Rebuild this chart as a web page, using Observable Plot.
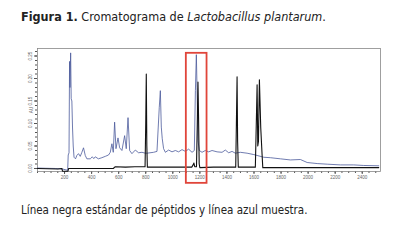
<!DOCTYPE html>
<html>
<head>
<meta charset="utf-8">
<script src="https://cdn.jsdelivr.net/npm/d3@7"></script>
<script src="https://cdn.jsdelivr.net/npm/@observablehq/plot@0.6"></script>
<style>
  html, body { margin: 0; padding: 0; background: #fff; width: 402px; height: 251px; overflow: hidden; }
  .txt { position: absolute; left: 21px; font-family: "Liberation Sans Narrow", "Arial Narrow", "DejaVu Sans Condensed", sans-serif; font-size: 11.5px; color: #222; white-space: nowrap; }
  #title { top: 9px; font-size: 12.5px; }
  #caption { top: 203px; }
  #chart { position: absolute; left: 0; top: 30px; }
</style>
</head>
<body>
<div id="title" class="txt"><b>Figura 1.</b> Cromatograma de <i>Lactobacillus plantarum</i>.</div>
<div id="chart"></div>
<div id="caption" class="txt">Línea negra estándar de péptidos y línea azul muestra.</div>
<script>
// Sample trace (blue): retention time and absorbance (AU)
const blueTime = [0, 57, 131, 183, 223, 227, 233, 237, 240, 245, 249, 254, 259, 264, 270, 281, 291, 303, 316, 328, 340, 353, 365, 390, 405, 416, 427, 450, 476, 501, 525, 538, 550, 560, 570, 580, 595, 607, 624, 644, 656, 669, 681, 698, 723, 747, 772, 797, 809, 858, 883, 900, 908, 915, 922, 932, 945, 969, 994, 1019, 1043, 1068, 1093, 1117, 1142, 1159, 1167, 1174, 1179, 1186, 1196, 1216, 1240, 1265, 1290, 1327, 1364, 1388, 1413, 1438, 1462, 1499, 1549, 1598, 1623, 1672, 1721, 1795, 1869, 1943, 1993, 2067, 2141, 2239, 2337, 2411, 2522];
const blueAU   = [0.001, 0.0005, 0.000, -0.001, -0.004, 0.030, 0.035, 0.238, 0.180, 0.257, 0.155, 0.150, 0.090, 0.050, 0.025, 0.0215, 0.029, 0.033, 0.027, 0.036, 0.046, 0.029, 0.0215, 0.0215, 0.026, 0.022, 0.026, 0.0215, 0.024, 0.027, 0.030, 0.036, 0.055, 0.036, 0.103, 0.044, 0.068, 0.046, 0.040, 0.073, 0.044, 0.113, 0.040, 0.033, 0.041, 0.035, 0.036, 0.034, 0.034, 0.036, 0.038, 0.136, 0.173, 0.092, 0.066, 0.044, 0.036, 0.041, 0.037, 0.040, 0.037, 0.042, 0.038, 0.043, 0.036, 0.040, 0.173, 0.253, 0.180, 0.062, 0.040, 0.036, 0.040, 0.037, 0.040, 0.037, 0.036, 0.041, 0.035, 0.038, 0.034, 0.036, 0.034, 0.031, 0.029, 0.025, 0.024, 0.0215, 0.019, 0.020, 0.0133, 0.011, 0.0096, 0.008, 0.008, 0.0067, 0.006];

// Peptide standard trace (black)
const blackTime = [0, 150, 180, 185, 225, 230, 400, 560, 575, 650, 720, 795, 800, 804, 808, 812, 950, 1140, 1150, 1156, 1162, 1175, 1181, 1186, 1190, 1195, 1200, 1300, 1465, 1470, 1475, 1479, 1484, 1610, 1617, 1623, 1628, 1633, 1640, 1650, 1660, 1665, 1800, 2000, 2200, 2522];
const blackAU   = [0.000, -0.001, 0.000, -0.006, -0.006, 0.000, 0.000, 0.000, 0.004, 0.003, 0.004, 0.004, 0.100, 0.210, 0.050, 0.003, 0.003, 0.003, 0.008, 0.012, 0.004, 0.004, 0.100, 0.192, 0.120, 0.010, 0.002, 0.003, 0.003, 0.100, 0.204, 0.060, 0.003, 0.003, 0.100, 0.186, 0.050, 0.060, 0.197, 0.090, 0.030, 0.002, 0.002, 0.002, 0.002, 0.002];

// Highlighted region (red box)
const highlight = [{t1: 1100, t2: 1253, v1: -0.033, v2: 0.256}];

// Axis ticks
const xTickLabels = [200, 400, 600, 800, 1000, 1200, 1400, 1600, 1800, 2000, 2200, 2400];
const yTickLabels = [0, 0.05, 0.10, 0.15, 0.20, 0.25];

const blue = blueTime.map((t, i) => ({t, v: blueAU[i]}));
const black = blackTime.map((t, i) => ({t, v: blackAU[i]}));

const chart = Plot.plot({
  width: 402,
  height: 160,
  marginLeft: 37,
  marginRight: 22,
  marginTop: 18,
  marginBottom: 19,
  style: {fontFamily: "Liberation Sans, Arial, sans-serif", color: "#666", background: "transparent"},
  x: {domain: [0, 2535]},
  y: {domain: [-0.00667, 0.2667]},
  marks: [
    Plot.axisX({ticks: d3.range(0, 2501, 50), tickSize: 2, tickFormat: () => "", stroke: "#555"}),
    Plot.axisX({ticks: xTickLabels, tickSize: 3, tickPadding: 1.5, fontSize: 4.5, fill: "#666", stroke: "#555", tickFormat: d3.format("d"), label: null}),
    Plot.axisY({ticks: d3.range(0, 0.2601, 0.01), tickSize: 2, tickFormat: () => "", stroke: "#555"}),
    Plot.axisY({ticks: yTickLabels, tickSize: 3, tickPadding: 2.5, tickRotate: -90, textAnchor: "middle", fontSize: 4.5, fill: "#666", stroke: "#555", tickFormat: d3.format(".2f"),
      label: "AU", labelAnchor: "center", labelArrow: "none", labelOffset: 8}),
    Plot.frame({stroke: "#888", strokeWidth: 0.8}),
    Plot.line(blue, {x: "t", y: "v", stroke: "#4b5a9c", strokeWidth: 0.8}),
    Plot.line(black, {x: "t", y: "v", stroke: "#111", strokeWidth: 1.1}),
    Plot.rect(highlight, {x1: "t1", x2: "t2", y1: "v1", y2: "v2", fill: "none", stroke: "#e0453a", strokeWidth: 1.8})
  ]
});
document.getElementById("chart").appendChild(chart);
</script>
</body>
</html>
